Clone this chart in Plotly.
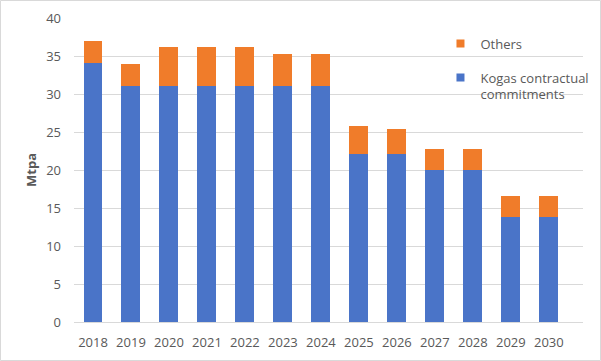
import plotly.graph_objects as go

years = ["2018","2019","2020","2021","2022","2023","2024","2025","2026","2027","2028","2029","2030"]
kogas = [34.1, 31.0, 31.0, 31.0, 31.0, 31.0, 31.0, 22.1, 22.1, 20.0, 20.0, 13.8, 13.8]
others = [2.9, 3.0, 5.2, 5.2, 5.2, 4.3, 4.3, 3.7, 3.3, 2.8, 2.8, 2.8, 2.8]

BLUE = "#4a74c8"
ORANGE = "#f07c2a"

W, H = 601, 361
L, R, T, B = 74, 18, 18, 39
pw, ph = W - L - R, H - T - B

fig = go.Figure()
fig.add_bar(x=years, y=kogas, name="Kogas contractual commitments",
            marker=dict(color=BLUE, line=dict(width=0)), showlegend=False)
fig.add_bar(x=years, y=others, name="Others",
            marker=dict(color=ORANGE, line=dict(width=0)), showlegend=False)
# legend entries (square markers, as in the reference)
fig.add_scatter(x=[None], y=[None], mode="markers", name="Kogas contractual<br>commitments",
                marker=dict(symbol="square", size=8, color=BLUE), legendgroup="b", legendrank=2)
fig.add_scatter(x=[None], y=[None], mode="markers", name="Others",
                marker=dict(symbol="square", size=8, color=ORANGE), legendgroup="a", legendrank=1)

fig.update_layout(
    width=W, height=H,
    margin=dict(l=L, r=R, t=T, b=B, autoexpand=False),
    barmode="stack", bargap=0.5,
    paper_bgcolor="white", plot_bgcolor="white",
    font=dict(family="Open Sans", size=13, color="#595959"),
    legend=dict(x=0.72, y=0.965, xanchor="left", yanchor="top",
                traceorder="grouped", valign="top",
                font=dict(size=13, color="#595959"),
                bgcolor="rgba(0,0,0,0)", itemwidth=30, tracegroupgap=14),
    xaxis=dict(type="category", range=[-0.5, 12.9], showgrid=False, automargin=False,
               showline=True, linecolor="#d9d9d9", linewidth=1, ticks="",
               ticklabelstandoff=8),
    yaxis=dict(range=[0, 40], dtick=5, showgrid=True, gridcolor="#d9d9d9", automargin=False,
               gridwidth=1, zeroline=False, ticks="", ticklabelstandoff=12,
               title=dict(text="<b>Mtpa</b>", font=dict(size=13, color="#595959"), standoff=6)),
    shapes=[dict(type="rect", xref="paper", yref="paper",
                 x0=-(L - 0.5) / pw, x1=1 + (R - 0.5) / pw,
                 y0=-(B - 0.5) / ph, y1=1 + (T - 0.5) / ph,
                 line=dict(color="#d9d9d9", width=1), layer="below")],
)

fig.write_html("out.html", config={"displayModeBar": False},
               post_script="document.body.style.margin='0';document.body.style.overflow='hidden';")
